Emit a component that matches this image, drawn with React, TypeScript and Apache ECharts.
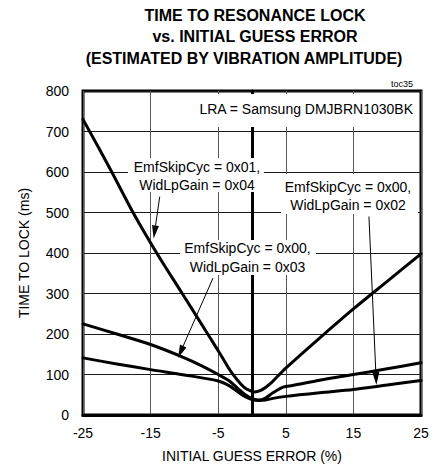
import React, { useEffect, useRef } from "react";
import * as echarts from "echarts";

// ---- Data ----
const xMin = -25;
const xMax = 25;
const xInterval = 10;
const yMin = 0;
const yMax = 800;
const yInterval = 100;

const titleLines = [
  "TIME TO RESONANCE LOCK",
  "vs. INITIAL GUESS ERROR",
  "(ESTIMATED BY VIBRATION AMPLITUDE)",
];
const xAxisName = "INITIAL GUESS ERROR (%)";
const yAxisName = "TIME TO LOCK (ms)";

// EmfSkipCyc = 0x01, WidLpGain = 0x04
const curve0104: [number, number][] = [
  [-25, 730], [-21, 608], [-17.6, 500], [-14.1, 400], [-10.25, 298],
  [-6.55, 200], [-4.5, 145], [-3.35, 113], [-2.2, 87], [-1.2, 69],
  [-0.3, 60], [0.4, 57], [1.2, 60], [2, 68], [3, 82], [4, 99], [5, 116],
  [10, 190], [15, 262], [20, 330], [25, 398],
];
// EmfSkipCyc = 0x00, WidLpGain = 0x03
const curve0003: [number, number][] = [
  [-25, 225], [-20, 200], [-15, 174], [-10.25, 143], [-7.5, 122], [-5, 100],
  [-3.35, 84], [-2, 64], [-1, 50], [0, 41], [1, 37], [2, 42], [3.1, 55],
  [4.6, 69], [6, 73], [10, 86], [15, 100], [20, 114], [25, 129],
];
// EmfSkipCyc = 0x00, WidLpGain = 0x02
const curve0002: [number, number][] = [
  [-25, 141], [-20, 126], [-15, 112], [-10, 99], [-5, 84], [-3.35, 72],
  [-2, 56], [-1, 45], [0, 38], [1, 36], [2, 37], [3.1, 41], [5, 46],
  [10, 55], [15, 63], [20, 74], [25, 85],
];

const lraLabel = "LRA = Samsung DMJBRN1030BK";
const label0104 = "EmfSkipCyc = 0x01,\nWidLpGain = 0x04";
const label0002 = "EmfSkipCyc = 0x00,\nWidLpGain = 0x02";
const label0003 = "EmfSkipCyc = 0x00,\nWidLpGain = 0x03";
const docCode = "toc35";

// arrows: [tailX, tailY, tipX, tipY] in data units
const arrow0104: [number, number, number, number] = [-13.65, 539, -14.55, 436];
const arrow0003: [number, number, number, number] = [-5.77, 338, -10.95, 141];
const arrow0002: [number, number, number, number] = [17.3, 490, 18.4, 74];

const FONT = "'Liberation Sans', Arial, Helvetica, sans-serif";

export default function App() {
  const ref = useRef<HTMLDivElement>(null);

  useEffect(() => {
    if (!ref.current) return;
    const chart = echarts.init(ref.current, undefined, { renderer: "svg" });

    const lineSeries = (name: string, data: [number, number][]) => ({
      name,
      type: "line",
      data,
      smooth: 0.3,
      showSymbol: false,
      symbol: "none",
      z: 10,
      lineStyle: { color: "#000", width: 3, join: "round", cap: "round" },
    });

    chart.setOption({
      animation: false,
      backgroundColor: "#fff",
      textStyle: { fontFamily: FONT },
      grid: {
        left: 83,
        top: 91,
        width: 338,
        height: 325,
        show: true,
        borderColor: "#000",
        borderWidth: 3,
        backgroundColor: "transparent",
      },
      xAxis: {
        type: "value",
        min: xMin,
        max: xMax,
        interval: xInterval,
        name: xAxisName,
        nameLocation: "middle",
        nameGap: 34,
        nameTextStyle: { color: "#000", fontSize: 14, fontFamily: FONT },
        axisLine: { show: true, lineStyle: { color: "#000", width: 3 } },
        axisTick: { show: false },
        axisLabel: { color: "#000", fontSize: 14, fontFamily: FONT, margin: 11 },
        splitLine: { show: true, lineStyle: { color: "#555", width: 1 } },
      },
      yAxis: {
        type: "value",
        min: yMin,
        max: yMax,
        interval: yInterval,
        name: yAxisName,
        nameLocation: "middle",
        nameRotate: 90,
        nameGap: 52,
        nameTextStyle: { color: "#000", fontSize: 14, fontFamily: FONT },
        axisLine: { show: true, lineStyle: { color: "#000", width: 3 } },
        axisTick: { show: false },
        axisLabel: { color: "#000", fontSize: 14, fontFamily: FONT, margin: 14 },
        splitLine: { show: true, lineStyle: { color: "#1a1a1a", width: 1 } },
      },
      series: [
        lineSeries("EmfSkipCyc = 0x01, WidLpGain = 0x04", curve0104),
        lineSeries("EmfSkipCyc = 0x00, WidLpGain = 0x03", curve0003),
        lineSeries("EmfSkipCyc = 0x00, WidLpGain = 0x02", curve0002),
      ],
    });

    const txt = (
      text: string,
      x: number,
      y: number,
      opts: { align?: string; size?: number; weight?: string; lh?: number } = {}
    ) => ({
      type: "text",
      x,
      y,
      z: 20,
      silent: true,
      style: {
        text,
        fill: "#000",
        fontSize: opts.size ?? 14,
        fontWeight: opts.weight ?? "normal",
        fontFamily: FONT,
        lineHeight: opts.lh ?? 18.3,
        textAlign: opts.align ?? "center",
        textVerticalAlign: "middle",
        align: opts.align ?? "center",
        verticalAlign: "middle",
      },
    });

    const box = (x: number, y: number, w: number, h: number) => ({
      type: "rect",
      z: 15,
      silent: true,
      shape: { x, y, width: w, height: h },
      style: { fill: "#fff" },
    });

    const arrow = (a: [number, number, number, number]) => {
      const p0 = chart.convertToPixel({ xAxisIndex: 0, yAxisIndex: 0 }, [a[0], a[1]]) as number[];
      const p1 = chart.convertToPixel({ xAxisIndex: 0, yAxisIndex: 0 }, [a[2], a[3]]) as number[];
      const dx = p1[0] - p0[0];
      const dy = p1[1] - p0[1];
      const len = Math.sqrt(dx * dx + dy * dy);
      const ux = dx / len;
      const uy = dy / len;
      const headLen = 13;
      const headHalf = 3.5;
      const bx = p1[0] - ux * headLen;
      const by = p1[1] - uy * headLen;
      return [
        {
          type: "line",
          z: 20,
          silent: true,
          shape: { x1: p0[0], y1: p0[1], x2: bx, y2: by },
          style: { stroke: "#000", lineWidth: 1 },
        },
        {
          type: "polygon",
          z: 20,
          silent: true,
          shape: {
            points: [
              [p1[0], p1[1]],
              [bx - uy * headHalf, by + ux * headHalf],
              [bx + uy * headHalf, by - ux * headHalf],
            ],
          },
          style: { fill: "#000" },
        },
      ];
    };

    const graphics: any[] = [
      txt(titleLines[0], 255, 15, { size: 16, weight: "bold" }),
      txt(titleLines[1], 255, 36.7, { size: 16, weight: "bold" }),
      txt(titleLines[2], 244, 58.3, { size: 16, weight: "bold" }),
      txt(docCode, 413, 84, { size: 9, align: "right" }),
      box(195, 94, 223, 33),
      txt(lraLabel, 413, 109.3, { align: "right" }),
      box(128, 158, 136, 34),
      txt(label0104, 197, 175.8),
      box(281, 174, 137, 40),
      txt(label0002, 348, 195.9),
      box(180, 240, 136, 35),
      txt(label0003, 247.5, 257.5),
      ...arrow(arrow0104),
      ...arrow(arrow0003),
      ...arrow(arrow0002),
    ];

    chart.setOption({ graphic: { elements: graphics } });

    return () => chart.dispose();
  }, []);

  return (
    <div
      ref={ref}
      style={{ position: "fixed", left: 0, top: 0, width: 437, height: 468, background: "#fff" }}
    />
  );
}
